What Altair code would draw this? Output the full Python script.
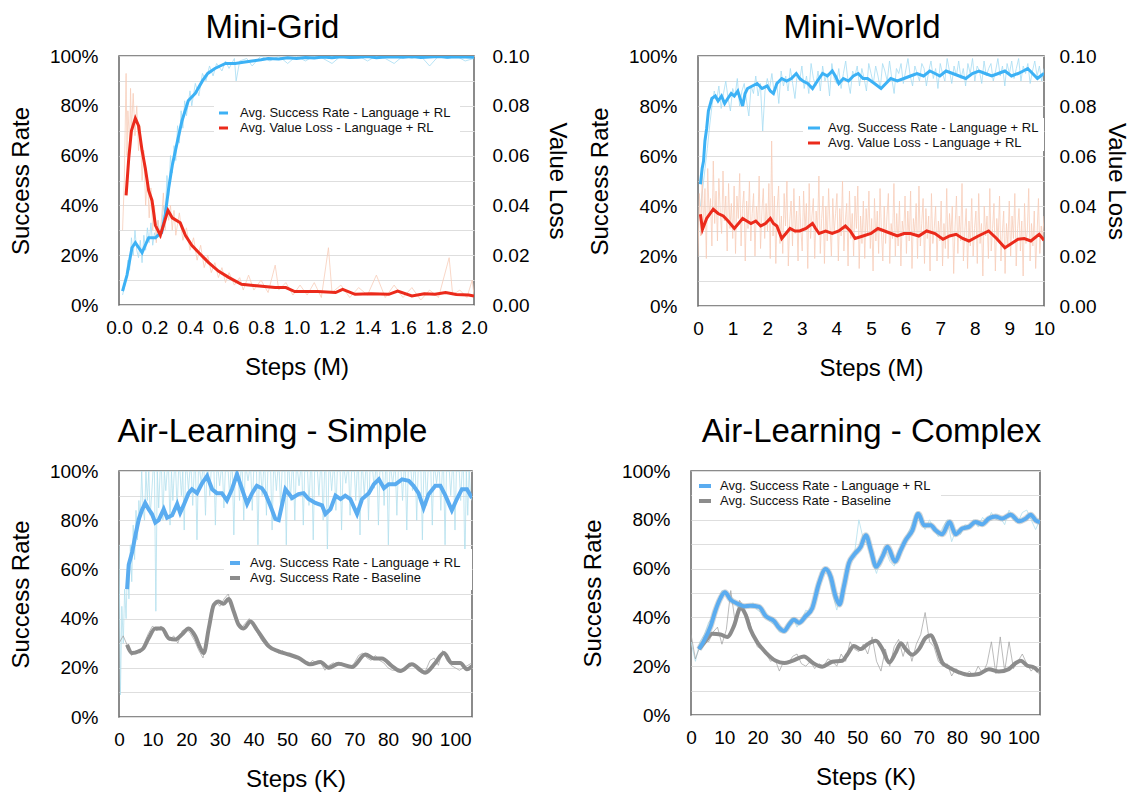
import altair as alt
import numpy as np
import pandas as pd

FONT = "Liberation Sans"

# ---------------- Mini-Grid ----------------
mg_sr_x = [0.02,0.045,0.073,0.092,0.13,0.148,0.167,0.205,0.22,0.24,0.26,0.28,0.30,0.33,0.355,0.39,0.43,0.47,0.50,0.54,0.60,0.655,0.70,0.75,0.80,0.84,0.90,0.95,1.0,1.05,1.1,1.15,1.2,1.25,1.3,1.35,1.4,1.45,1.5,1.55,1.6,1.65,1.7,1.75,1.8,1.85,1.9,1.95,2.0]
mg_sr_y = [5.6,12,23,25,21,24,27,27,28,29,36,47,56,66,74,82,85,90,93,95,97,97,97.5,98,98.5,99,98.8,99.3,99,99.4,99.2,99.6,99.3,99.7,99.4,99.5,99.8,99.3,99.6,99.7,99.5,99.8,99.4,99.6,99.8,99.5,99.7,99.6,99.5]
mg_vl_x = [0.04,0.055,0.07,0.092,0.11,0.13,0.148,0.167,0.186,0.205,0.233,0.25,0.276,0.30,0.345,0.374,0.41,0.45,0.505,0.56,0.62,0.69,0.79,0.88,0.94,0.99,1.12,1.22,1.26,1.33,1.42,1.52,1.57,1.65,1.72,1.78,1.84,1.9,1.97,2.0]
mg_vl_y = [0.044,0.059,0.070,0.075,0.072,0.062,0.055,0.046,0.042,0.032,0.028,0.032,0.038,0.035,0.033,0.028,0.024,0.021,0.017,0.0136,0.011,0.0083,0.0076,0.007,0.007,0.0054,0.0054,0.005,0.0063,0.0043,0.0045,0.0043,0.0056,0.0036,0.0045,0.0043,0.005,0.0042,0.004,0.0036]
mg_sr_raw_x = [0.02,0.04,0.05,0.06,0.07,0.08,0.09,0.10,0.11,0.12,0.13,0.14,0.15,0.16,0.17,0.18,0.19,0.20,0.21,0.22,0.23,0.24,0.25,0.26,0.27,0.28,0.29,0.30,0.31,0.32,0.33,0.34,0.35,0.36,0.37,0.38,0.40,0.41,0.43,0.45,0.47,0.49,0.51,0.53,0.55,0.58,0.60,0.62,0.65,0.66,0.68,0.72,0.75,0.80,0.85,0.90,0.95,1.0,1.05,1.1,1.15,1.2,1.25,1.3,1.35,1.4,1.45,1.5,1.55,1.6,1.65,1.7,1.75,1.8,1.85,1.9,1.95,2.0]
mg_sr_raw = [4,10,18,14,27,20,30,22,19,26,17,28,22,31,25,33,24,29,26,34,27,31,40,35,52,44,60,53,64,58,72,65,78,71,82,76,86,80,89,84,93,90,96,92,97,94,98,95,99,90,98,99,96,100,98,100,97,100,98,100,99,97,100,99,100,98,100,99,97,100,99,100,96,100,99,100,98,99]
mg_vl_raw_x = [0.02,0.03,0.04,0.045,0.05,0.06,0.065,0.07,0.08,0.09,0.10,0.11,0.12,0.13,0.14,0.15,0.16,0.17,0.18,0.19,0.20,0.21,0.22,0.23,0.24,0.25,0.26,0.27,0.28,0.29,0.30,0.31,0.32,0.34,0.36,0.38,0.40,0.42,0.44,0.46,0.48,0.50,0.52,0.54,0.56,0.58,0.60,0.62,0.65,0.68,0.70,0.73,0.76,0.80,0.84,0.88,0.90,0.94,0.98,1.02,1.06,1.1,1.14,1.18,1.2,1.25,1.3,1.35,1.4,1.45,1.5,1.55,1.6,1.65,1.7,1.75,1.8,1.86,1.88,1.92,1.96,1.99,2.0]
mg_vl_raw = [0.03,0.05,0.093,0.06,0.078,0.065,0.087,0.07,0.085,0.068,0.08,0.062,0.072,0.05,0.062,0.04,0.052,0.035,0.047,0.03,0.04,0.025,0.034,0.027,0.035,0.045,0.03,0.042,0.034,0.04,0.03,0.038,0.028,0.037,0.026,0.031,0.022,0.027,0.018,0.024,0.015,0.02,0.013,0.017,0.011,0.015,0.009,0.013,0.008,0.011,0.006,0.012,0.006,0.01,0.005,0.016,0.006,0.009,0.004,0.008,0.004,0.009,0.003,0.023,0.005,0.008,0.003,0.007,0.004,0.012,0.003,0.008,0.003,0.007,0.002,0.006,0.003,0.019,0.004,0.006,0.003,0.01,0.004]

# ---------------- Mini-World ----------------
mw_sr_x = [0.07,0.12,0.16,0.2,0.25,0.3,0.4,0.5,0.58,0.68,0.77,0.86,0.96,1.05,1.15,1.22,1.29,1.36,1.43,1.57,1.71,1.85,2.0,2.09,2.18,2.28,2.42,2.56,2.7,2.84,2.94,3.03,3.17,3.31,3.45,3.6,3.74,3.88,3.97,4.07,4.2,4.35,4.49,4.63,4.77,4.9,5.1,5.29,5.43,5.57,5.76,5.95,6.14,6.33,6.52,6.7,6.85,6.99,7.17,7.36,7.55,7.74,7.93,8.12,8.3,8.49,8.68,8.87,9.06,9.25,9.4,9.53,9.67,9.81,9.9,10.0]
mw_sr_y = [48.7,55,58,66,71,78,83,84,82,84,81,83,85,84,86,83,80,85,87,88,89,87,88,86,85,89,91,90,91,93,91,90,89,87,90,93,92,94,92,89,91,90,92,93,91,91,89,87,89,91,90,91,92,93,92,94,93,92,94,93,92,91,93,94,93,92,93,94,92,93,94,95,93,91,92,93]
mw_vl_x = [0.07,0.13,0.25,0.44,0.58,0.73,0.87,1.05,1.17,1.29,1.41,1.53,1.67,1.81,1.95,2.09,2.18,2.28,2.42,2.54,2.66,2.8,2.94,3.12,3.31,3.4,3.5,3.69,3.88,4.07,4.26,4.4,4.54,4.77,5.0,5.2,5.39,5.58,5.76,5.95,6.14,6.38,6.61,6.85,7.08,7.27,7.46,7.65,7.83,8.1,8.4,8.63,8.87,9.06,9.25,9.43,9.62,9.86,10.0]
mw_vl_y = [0.0367,0.0307,0.035,0.0387,0.037,0.036,0.034,0.031,0.033,0.035,0.034,0.033,0.034,0.032,0.033,0.035,0.033,0.032,0.027,0.029,0.031,0.030,0.030,0.031,0.033,0.031,0.029,0.030,0.029,0.030,0.032,0.030,0.027,0.028,0.029,0.031,0.030,0.029,0.028,0.029,0.029,0.028,0.030,0.029,0.0267,0.028,0.0287,0.027,0.026,0.028,0.030,0.027,0.0233,0.025,0.0267,0.027,0.026,0.0287,0.0263]
mw_sr_raw = [40,47,55,63,72,80,86,82,88,79,85,90,83,78,87,84,91,80,86,89,82,76,88,85,92,
             84,89,70,86,91,87,93,85,90,81,94,88,92,86,95,89,83,93,90,96,87,92,85,97,91,
             88,94,86,96,90,93,84,97,91,89,95,87,93,98,90,85,94,92,96,88,95,91,86,97,93,
             89,96,92,87,97,94,90,98,91,85,95,93,97,89,94,99,92,88,96,93,90,97,95,88,94,
             98,91,95,87,97,93,90,99,94,89,96,92,98,91,95,88,97,93,99,90,96,94,89,98,92,
             95,97,90,94,99,92,96,88,97,93,98,91,95,99,90,96,93,97,89,94,98,92,96,90,95]
mw_vl_raw = [0.020,0.045,0.028,0.052,0.031,0.047,0.019,0.055,0.036,0.043,0.024,0.058,0.033,0.046,0.026,0.051,0.038,0.029,0.054,0.034,0.044,0.022,0.049,0.031,0.041,
             0.027,0.048,0.021,0.044,0.035,0.053,0.024,0.039,0.046,0.018,0.042,0.031,0.050,0.026,0.037,0.045,0.020,0.040,0.033,0.052,0.023,0.038,0.047,0.027,0.041,
             0.030,0.049,0.019,0.066,0.028,0.044,0.017,0.039,0.048,0.025,0.036,0.021,0.045,0.032,0.050,0.016,0.034,0.042,0.024,0.047,0.029,0.038,0.018,0.044,0.031,
             0.022,0.046,0.030,0.041,0.015,0.049,0.027,0.036,0.043,0.019,0.038,0.030,0.052,0.021,0.035,0.044,0.017,0.040,0.026,0.047,0.032,0.020,0.043,0.029,0.037,
             0.045,0.018,0.039,0.028,0.050,0.022,0.034,0.041,0.016,0.046,0.027,0.037,0.020,0.044,0.031,0.048,0.015,0.036,0.025,0.042,0.019,0.039,0.029,0.046,0.023,
             0.035,0.014,0.043,0.026,0.038,0.021,0.047,0.030,0.018,0.040,0.025,0.036,0.045,0.017,0.033,0.027,0.049,0.020,0.037,0.024,0.042,0.016,0.034,0.028,0.044,
             0.021,0.038,0.026,0.046,0.015,0.035,0.029,0.041,0.019,0.048,0.024,0.033,0.043,0.017,0.039,0.027,0.036,0.014,0.045,0.025,0.031,0.040,0.018,0.034,0.026,
             0.042,0.016,0.033,0.023,0.047,0.019,0.037,0.028,0.040,0.013,0.032,0.044,0.021,0.036,0.026,0.049,0.018,0.030,0.039,0.015,0.034,0.024,0.043,0.020,0.031,
             0.038,0.017,0.045,0.025,0.033,0.012,0.040,0.028,0.036,0.019,0.047,0.022,0.031,0.041,0.014,0.035,0.026,0.044,0.018,0.029,0.038,0.013,0.033,0.024,0.042,
             0.020,0.036,0.027,0.045,0.016,0.031,0.039,0.022,0.034,0.012,0.041,0.025,0.030,0.047,0.018,0.033,0.024,0.038,0.015,0.029,0.043,0.021,0.032,0.026,0.036]

# ---------------- Air-Learning - Simple ----------------
als_sr_x = [2.4,2.9,3.9,4.9,5.9,6.8,7.8,8.8,9.8,10.8,11.8,13.3,14.3,15.8,17.3,18.2,19.2,20.7,21.7,23.2,24.7,26.2,27.7,29.1,30.6,32.1,33.6,35.1,36.6,38.1,39.6,41.0,42.5,43.5,45.0,46.5,47.5,49.5,51.5,53.4,54.9,56.4,58.4,60.4,61.4,62.9,64.4,65.9,67.3,68.8,70.8,72.3,74.3,75.8,77.3,78.8,80.2,82.2,84.2,86.2,87.6,89.1,90.6,92.1,94.1,95.6,97.1,99.0,100.5,102.0,103.5,105.0]
als_sr_y = [52,62,67,74,80.5,84,87,84.5,82.5,79,80,84.5,81,82,86.6,83,86,91,92.6,91,95,98,92.6,91,91,88,92.6,98.7,92.6,86.6,91,94,93,91,86,80.5,80,92.6,89,90.6,91,88.6,87,86,82.5,84.5,90,88.6,90,88.6,82.5,88.6,91,94.6,96.6,93,94.6,94.6,96.6,96,94,91,85,90.6,94,94,90,84,88.6,92.6,92.6,89]
als_bl_x = [2.4,3.9,5.9,7.3,8.8,10.8,12.8,14.8,16.8,18.7,20.7,22.7,24.2,25.2,26.7,28.2,29.6,31.1,32.6,34.1,35.6,37.1,39.1,41.0,43.0,44.5,47.5,50.5,53.4,57.0,59.9,62.4,65.3,69.3,73.3,75.8,78.2,81.2,83.7,87.1,91.1,94.1,96.6,99.0,101.5,103.5,105.0]
als_bl_y = [29.4,26,26.7,28,32,36,36,32,31.5,33.5,36,32.8,28,26,36,45.6,47,46,48,43,37.5,36,38.8,35.5,31.5,28.8,26.7,25.4,24,21.4,22.4,20,21.6,20.3,25.4,23.8,23.8,20.7,18.7,21.4,18,22,26,22,22,19.4,20.7]
als_sr_raw = [70,9,45,30,52,40,62,48,70,55,78,64,84,72,88,80,100,85,80,100,88,100,82,90,100,
              100,43,100,85,100,100,80,100,92,100,100,78,100,88,100,100,84,100,100,90,100,76,100,100,92,
              100,100,86,100,100,72,100,100,95,100,100,82,100,100,90,100,100,100,78,100,100,94,100,100,85,
              100,100,100,90,100,100,74,100,100,100,88,100,100,80,100,100,96,100,100,84,100,100,100,70,100,
              100,90,100,100,82,100,100,100,76,100,100,92,100,100,85,100,100,100,70,100,100,88,100,100,80,
              100,100,94,100,100,78,100,100,100,86,100,100,72,100,100,100,90,100,100,80,100,100,68,100,100,
              92,100,100,84,100,100,100,76,100,100,95,100,100,82,100,100,100,88,100,100,74,100,100,90,100,
              100,80,100,100,100,93,100,100,78,100,100,100,86,100,100,70,100,100,94,100,100,82,100,100,100,
              88,100,100,76,100,100,100,92,100,100,80,100,100,100,72,100,100,86,100,100,100,78,100,100,95,
              100,100,84,100,100,70,100,100,100,90,100,100,76,100,100,100,88,100,100,60,100,82,100,90,88]
als_bl_raw = [30,33,29,25,27,26,30,34,37,35,37,33,31,33,30,35,36,34,31,27,24,33,44,47,45,48,50,44,39,36,38,40,37,34,31,29,28,27,26,27,25,25,24,24,22,21,23,22,22,19,21,22,21,22,21,20,22,25,26,24,23,25,23,22,20,19,19,19,20,22,21,19,18,19,23,24,21,27,23,21,20,19,20,21,22]

# ---------------- Air-Learning - Complex ----------------
alc_sr_x = [2.4,3.9,5.9,7.4,8.9,10.2,11.9,13.9,15.9,17.9,20.5,22.5,25.0,26.5,28.0,29.5,31.0,32.5,34.5,36.5,38.5,40.5,42.0,43.5,44.7,46.0,47.5,49.0,51.1,52.6,54.1,55.7,57.6,59.1,61.4,63.1,64.6,66.6,68.4,70.1,72.1,73.6,75.6,77.8,79.6,81.6,83.6,85.6,87.6,89.6,91.6,93.6,96.2,98.7,100.7,102.2,103.7,105.0]
alc_sr_y = [27,30.4,36.4,43,48,50.3,47.3,45.7,44.6,44.8,44.3,40.5,38.5,35.8,34.4,37,39,37.8,40.5,43.9,54,59.8,56.8,48.6,45.3,52.7,62.2,65.6,69,73.7,67.6,60.8,64.9,69,62.9,67.6,71.7,75.7,82.5,77.8,77.8,75.7,74.1,79.1,74.1,76.4,77.1,79.1,78.2,80.5,81.4,80.5,82.1,79.4,80.5,82.1,79.8,79.1]
alc_bl_x = [2.4,4.4,6.4,8.9,10.9,12.9,14.9,16.4,17.9,20.0,22.5,25.5,28.0,30.5,34.0,36.5,39.5,42.5,45.5,47.1,49.0,51.1,53.1,55.6,57.6,59.6,61.6,63.1,64.6,66.6,68.6,70.6,72.2,73.6,75.6,77.6,80.6,83.6,86.6,89.6,92.6,95.6,97.7,99.2,101.2,103.2,104.6]
alc_bl_y = [27,30.4,33.3,33,32,36.4,43.9,41.2,35,29.7,25.6,22.2,21.3,22.2,24,21.5,19.8,21.8,22.2,24.9,28.3,27,29,30.4,27,21.5,25.6,29.4,27,24.7,27,31.7,32.7,29,21.5,19.5,17.5,16.4,16.8,18.8,17.8,18.8,21.3,22.2,20.2,19.5,17.8]
alc_sr_raw = [30,22,30,33,38,40,46,51,50,47,46,43,45,44,46,43,42,40,38,37,34,34,38,40,36,39,43,42,49,55,60,58,50,43,50,58,64,66,80,72,70,63,58,65,68,63,61,67,70,74,78,83,79,76,80,76,73,77,80,71,76,74,78,77,80,77,81,79,83,80,81,78,84,80,79,83,84,80,76,80]
alc_bl_raw = [33,23,28,32,30,34,36,29,35,51,38,47,44,40,33,28,27,25,22,23,18,22,21,24,25,21,20,22,19,21,20,23,22,20,25,22,30,27,26,29,25,32,22,18,27,20,28,31,24,30,22,29,33,42,30,28,22,20,21,16,19,17,16,18,16,20,17,21,30,17,32,18,30,19,22,25,21,18,20,16]

LBL_SR = "Avg. Success Rate - Language + RL"
LBL_VL = "Avg. Value Loss - Language + RL"
LBL_BL = "Avg. Success Rate - Baseline"

BLUE = "#3cb1f5"
BLUE_THIN = "#a6dcf3"
RED = "#eb2a1b"
RED_THIN = "#f7cdb9"
BLUE2 = "#5aacf0"
BLUE2_THIN = "#b3e0ee"
GRAY = "#8c8c8c"
GRAY_THIN = "#9e9e9e"


def frame(xs, ys):
    n = min(len(xs), len(ys))
    return pd.DataFrame({"x": list(xs)[:n], "y": list(ys)[:n]})


def raw_frame(x0, x1, ys):
    return pd.DataFrame({"x": np.linspace(x0, x1, len(ys)), "y": ys})


def line(df, color, width, xs, xa, ys, ya, interp="linear", opacity=1.0):
    return alt.Chart(df).mark_line(color=color, strokeWidth=width, interpolate=interp,
                                   opacity=opacity, clip=True).encode(
        x=alt.X("x:Q", scale=xs, axis=xa),
        y=alt.Y("y:Q", scale=ys, axis=ya),
    )


def legend_layers(box, rows, sx0, sx1, tx, sw=3):
    one = pd.DataFrame({"k": [0]})
    out = [alt.Chart(one).mark_rect(fill="white").encode(
        x=alt.value(box[0]), x2=alt.value(box[1]), y=alt.value(box[2]), y2=alt.value(box[3]))]
    for label, color, yy in rows:
        out.append(alt.Chart(one).mark_rule(color=color, strokeWidth=sw).encode(
            x=alt.value(sx0), x2=alt.value(sx1), y=alt.value(yy)))
        out.append(alt.Chart(one).mark_text(text=label, align="left", baseline="middle",
                                            font=FONT, fontSize=13, color="#111").encode(
            x=alt.value(tx), y=alt.value(yy)))
    return out


pct_vals = list(range(0, 101, 10))
left_axis = alt.Axis(values=pct_vals, labelExpr="datum.value % 20 == 0 ? datum.value + '%' : ''",
                     title="Success Rate", grid=True, labelPadding=21, titlePadding=16)
right_axis1 = alt.Axis(orient="right", values=[0, 0.02, 0.04, 0.06, 0.08, 0.1], format=".2f",
                       title="Value Loss", grid=False, labelPadding=18, titlePadding=16)
right_axis2 = alt.Axis(orient="right", values=[0, 0.02, 0.04, 0.06, 0.08, 0.1], format=".2f",
                       title="Value Loss", grid=False, labelPadding=15, titlePadding=8)
y_pct = alt.Scale(domain=[0, 100], nice=False, zero=False)
y_loss = alt.Scale(domain=[0, 0.1], nice=False, zero=False)


def title(text, dx, offset):
    return alt.TitleParams(text=text, fontSize=33, font=FONT, fontWeight="normal", color="#000",
                           anchor="middle", dx=dx, offset=offset)


def xaxis(vals, fmt, ttl):
    return alt.Axis(values=vals, format=fmt, title=ttl, grid=False, labelPadding=13, titlePadding=18)


# Panel 1
x1s = alt.Scale(domain=[0, 2.0], nice=False, zero=False)
x1a = xaxis([0, 0.2, 0.4, 0.6, 0.8, 1.0, 1.2, 1.4, 1.6, 1.8, 2.0], ".1f", "Steps (M)")
p1 = alt.layer(
    line(frame(mg_sr_raw_x, mg_sr_raw), BLUE_THIN, 0.8, x1s, x1a, y_pct, None),
    line(frame(mg_vl_raw_x, mg_vl_raw), RED_THIN, 0.8, x1s, x1a, y_loss, None),
    line(frame(mg_sr_x, mg_sr_y), BLUE, 3, x1s, x1a, y_pct, left_axis),
    line(frame(mg_vl_x, mg_vl_y), RED, 3, x1s, x1a, y_loss, right_axis1),
    *legend_layers((95, 341, 46, 82), [(LBL_SR, BLUE, 57), (LBL_VL, RED, 72)], 100, 109, 121),
).resolve_scale(y="independent").properties(width=355, height=249, title=title("Mini-Grid", -24, 2))

# Panel 2
x2s = alt.Scale(domain=[0, 10], nice=False, zero=False)
x2a = xaxis(list(range(0, 11)), "d", "Steps (M)")
p2 = alt.layer(
    line(raw_frame(0.07, 10.0, mw_sr_raw), BLUE_THIN, 0.8, x2s, x2a, y_pct, None),
    line(raw_frame(0.0, 10.0, mw_vl_raw), RED_THIN, 0.8, x2s, x2a, y_loss, None),
    line(frame(mw_sr_x, mw_sr_y), BLUE, 3, x2s, x2a, y_pct, left_axis),
    line(frame(mw_vl_x, mw_vl_y), RED, 3, x2s, x2a, y_loss, right_axis2),
    *legend_layers((105, 346, 62, 95), [(LBL_SR, BLUE, 72), (LBL_VL, RED, 87)], 110, 122, 130),
).resolve_scale(y="independent").properties(width=346, height=250, title=title("Mini-World", -9, 2))

# Panel 3
xks = alt.Scale(domain=[0, 105], nice=False, zero=False)
xka = xaxis(list(range(0, 101, 10)), "d", "Steps (K)")
p3 = alt.layer(
    line(raw_frame(0, 105, als_sr_raw), BLUE2_THIN, 0.8, xks, xka, y_pct, left_axis),
    line(raw_frame(0, 105, als_bl_raw), GRAY_THIN, 0.7, xks, xka, y_pct, left_axis),
    line(frame(als_bl_x, als_bl_y), GRAY, 4, xks, xka, y_pct, left_axis, interp="monotone"),
    line(frame(als_sr_x, als_sr_y), BLUE2, 4, xks, xka, y_pct, left_axis),
    *legend_layers((105, 353, 78, 119), [(LBL_SR, BLUE2, 92), (LBL_BL, GRAY, 107)], 111, 121, 131, sw=4),
).properties(width=353, height=246, title=title("Air-Learning - Simple", -23, 13))

# Panel 4
p4 = alt.layer(
    line(raw_frame(0, 105, alc_sr_raw), BLUE2_THIN, 0.8, xks, xka, y_pct, left_axis),
    line(raw_frame(0, 105, alc_bl_raw), GRAY_THIN, 0.7, xks, xka, y_pct, left_axis),
    line(frame(alc_bl_x, alc_bl_y), GRAY, 4, xks, xka, y_pct, left_axis, interp="monotone"),
    line(frame(alc_sr_x, alc_sr_y), "#9aa3aa", 6, xks, xka, y_pct, left_axis, interp="monotone", opacity=0.45),
    line(frame(alc_sr_x, alc_sr_y), BLUE2, 4, xks, xka, y_pct, left_axis, interp="monotone"),
    *legend_layers((1, 250, 3, 40), [(LBL_SR, BLUE2, 15), (LBL_BL, GRAY, 30)], 8, 20, 29, sw=4),
).properties(width=349, height=244, title=title("Air-Learning - Complex", 6, 13))

chart = alt.vconcat(
    alt.hconcat(p1, p2, spacing=17),
    alt.hconcat(p3, p4, spacing=107),
    spacing=34,
).properties(padding={"left": 0, "top": 3, "right": 4, "bottom": 0}).configure_view(
    stroke="#666666", strokeWidth=1.5
).configure_axis(
    labelFont=FONT, titleFont=FONT, labelFontSize=19, titleFontSize=24, titleFontWeight="normal",
    labelColor="#000", titleColor="#000", ticks=False, domain=False, gridColor="#dedede",
    gridWidth=1, labelFlush=False, labelOverlap=False, labelBound=False
)

chart.save("out.html", embed_options={"renderer": "svg", "actions": False})
